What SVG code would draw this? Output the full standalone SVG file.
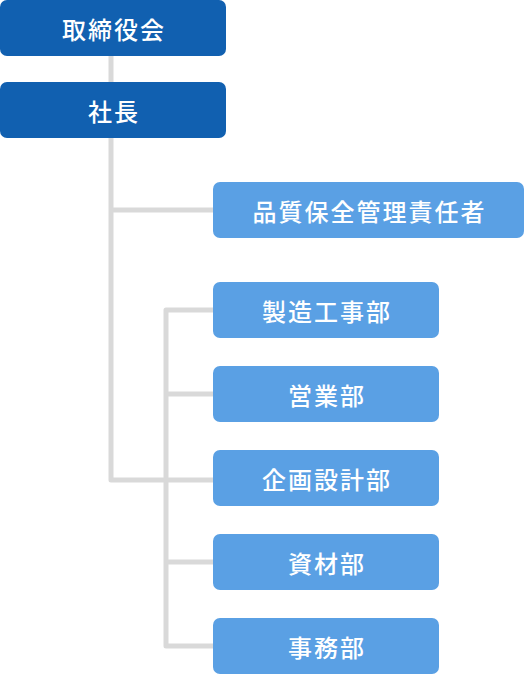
<svg xmlns="http://www.w3.org/2000/svg" width="524" height="674" viewBox="0 0 524 674">
<style>
.c{fill:none;stroke:#d9d9d9;stroke-width:5;stroke-linejoin:round}
.d{fill:#1160b0}
.l{fill:#5aa0e4}
.t{fill:#fff;font-family:"Noto Sans CJK JP","Noto Sans",sans-serif;font-size:24px;font-weight:500;letter-spacing:2px;text-anchor:middle;dominant-baseline:central}
</style>
<rect width="524" height="674" fill="#fff"/>
<g id="connectors">
<path class="c" d="M111 56V480H213"/>
<path class="c" d="M111 210H213"/>
<path class="c" d="M213 310H166V646H213"/>
<path class="c" d="M166 394H213M166 562H213"/>
</g>
<g id="n1"><rect class="d" x="0" y="0" width="226" height="56" rx="7"/><text class="t" x="114" y="28">取締役会</text></g>
<g id="n2"><rect class="d" x="0" y="82" width="226" height="56" rx="7"/><text class="t" x="114" y="110">社長</text></g>
<g id="n3"><rect class="l" x="213" y="182" width="311" height="56" rx="7"/><text class="t" x="369.5" y="210">品質保全管理責任者</text></g>
<g id="n4"><rect class="l" x="213" y="282" width="226" height="56" rx="7"/><text class="t" x="327" y="310">製造工事部</text></g>
<g id="n5"><rect class="l" x="213" y="366" width="226" height="56" rx="7"/><text class="t" x="327" y="394">営業部</text></g>
<g id="n6"><rect class="l" x="213" y="450" width="226" height="56" rx="7"/><text class="t" x="327" y="478">企画設計部</text></g>
<g id="n7"><rect class="l" x="213" y="534" width="226" height="56" rx="7"/><text class="t" x="327" y="562">資材部</text></g>
<g id="n8"><rect class="l" x="213" y="618" width="226" height="56" rx="7"/><text class="t" x="327" y="646">事務部</text></g>
</svg>
